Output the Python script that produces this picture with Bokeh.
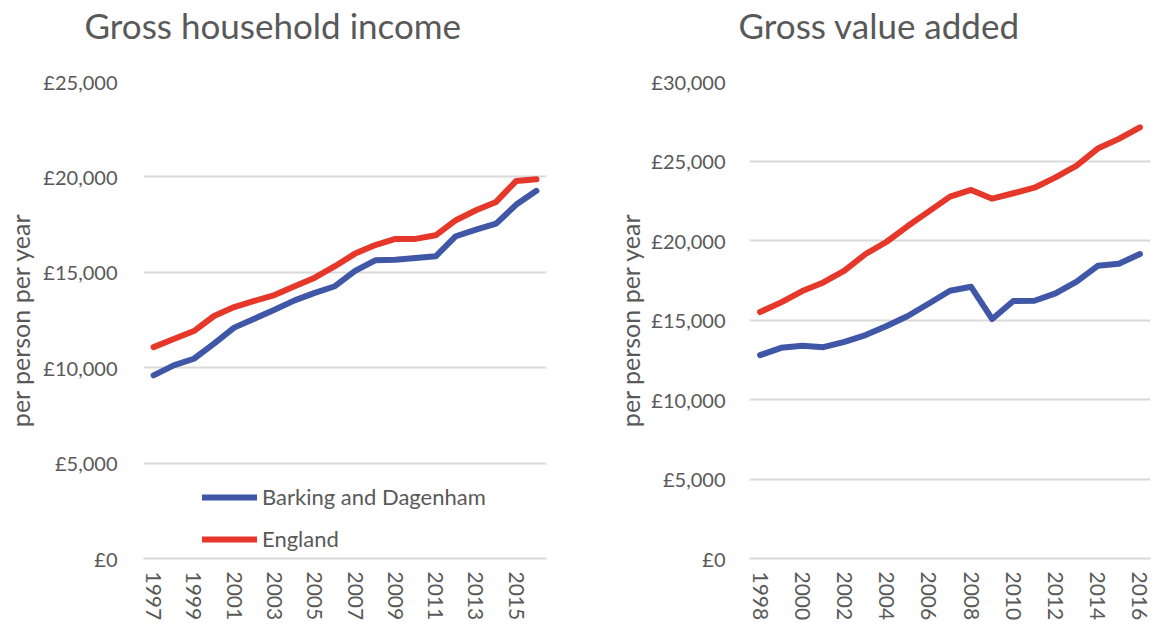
from bokeh.plotting import figure
from bokeh.layouts import row
from bokeh.models import Range1d, FixedTicker, Legend, LegendItem
from bokeh.embed import file_html
from bokeh.resources import INLINE

# ---- data ----
years_income = [1997, 1998, 1999, 2000, 2001, 2002, 2003, 2004, 2005, 2006,
                2007, 2008, 2009, 2010, 2011, 2012, 2013, 2014, 2015, 2016]
income_barking = [9600, 10120, 10470, 11260, 12100, 12570, 13040, 13530, 13920, 14270,
                  15070, 15630, 15660, 15750, 15840, 16890, 17240, 17550, 18550, 19270]
income_england = [11080, 11500, 11920, 12710, 13180, 13500, 13810, 14270, 14720, 15320,
                  15980, 16430, 16750, 16750, 16940, 17730, 18250, 18690, 19790, 19880]

years_gva = [1998, 1999, 2000, 2001, 2002, 2003, 2004, 2005, 2006, 2007,
             2008, 2009, 2010, 2011, 2012, 2013, 2014, 2015, 2016]
gva_barking = [12790, 13250, 13380, 13290, 13630, 14050, 14620, 15250, 16040, 16840,
               17090, 15060, 16190, 16210, 16670, 17410, 18410, 18540, 19150]
gva_england = [15500, 16110, 16820, 17360, 18100, 19150, 19920, 20910, 21830, 22760,
               23180, 22630, 22970, 23320, 23970, 24710, 25780, 26390, 27120]

income_xticks = [1997, 1999, 2001, 2003, 2005, 2007, 2009, 2011, 2013, 2015]
gva_xticks = [1998, 2000, 2002, 2004, 2006, 2008, 2010, 2012, 2014, 2016]
income_yticks = [0, 5000, 10000, 15000, 20000, 25000]
gva_yticks = [0, 5000, 10000, 15000, 20000, 25000, 30000]

series_names = ["Barking and Dagenham", "England"]
title_income = "Gross household income"
title_gva = "Gross value added"
y_label = "per person per year"

# ---- style ----
FONT = "Lato"
TXT = "#595959"
BLUE = "#3F57A6"
RED = "#E6382A"
GRID = "#D9D9D9"


def money(v):
    return "£{:,}".format(v)


def make_fig(title, years, xticks, yticks, ymax, fw, mbl, mbr, title_offset,
             label_standoff, axlabel_standoff):
    p = figure(frame_width=fw, frame_height=477,
               x_range=Range1d(years[0] - 0.5, years[-1] + 0.5),
               y_range=Range1d(0, ymax),
               output_backend="svg", toolbar_location=None,
               min_border_left=mbl, min_border_right=mbr,
               min_border_top=81, min_border_bottom=60,
               title=title + "\n\u00a0")
    p.title.text_font = FONT
    p.title.text_font_size = "35px"
    p.title.text_font_style = "normal"
    p.title.text_color = TXT
    p.title.text_line_height = 0.85
    p.title.align = "left"
    p.title.offset = title_offset
    p.title.standoff = 0
    p.outline_line_color = None
    p.background_fill_color = "white"
    p.border_fill_color = "white"

    p.xaxis.ticker = FixedTicker(ticks=xticks)
    p.xaxis.major_label_orientation = "vertical"
    p.xaxis.major_label_text_font = FONT
    p.xaxis.major_label_text_font_size = "21px"
    p.xaxis.major_label_text_color = TXT
    p.xaxis.major_label_standoff = 13
    p.xaxis.axis_line_color = GRID
    p.xaxis.axis_line_width = 2
    p.xaxis.major_tick_line_color = None
    p.xaxis.minor_tick_line_color = None
    p.xaxis.major_tick_out = 0
    p.xaxis.major_tick_in = 0

    p.yaxis.ticker = FixedTicker(ticks=yticks)
    p.yaxis.major_label_overrides = {v: money(v) for v in yticks}
    p.yaxis.major_label_text_font = FONT
    p.yaxis.major_label_text_font_size = "20px"
    p.yaxis.major_label_text_color = TXT
    p.yaxis.major_label_standoff = label_standoff
    p.yaxis.axis_line_color = None
    p.yaxis.major_tick_line_color = None
    p.yaxis.minor_tick_line_color = None
    p.yaxis.major_tick_out = 0
    p.yaxis.major_tick_in = 0
    p.yaxis.axis_label = y_label
    p.yaxis.axis_label_text_font = FONT
    p.yaxis.axis_label_text_font_size = "25px"
    p.yaxis.axis_label_text_font_style = "normal"
    p.yaxis.axis_label_text_color = TXT
    p.yaxis.axis_label_standoff = axlabel_standoff

    p.xgrid.grid_line_color = None
    p.ygrid.grid_line_color = GRID
    p.ygrid.grid_line_width = 2
    return p


p1 = make_fig(title_income, years_income, income_xticks, income_yticks, 25000,
              403, 143, 20, -59, 26, 5)
r1 = p1.line(years_income, income_barking, line_color=BLUE, line_width=6,
             line_cap="round", line_join="round")
r2 = p1.line(years_income, income_england, line_color=RED, line_width=6,
             line_cap="round", line_join="round")
legend = Legend(items=[LegendItem(label=series_names[0], renderers=[r1]),
                       LegendItem(label=series_names[1], renderers=[r2])],
                location=(59, 6), orientation="vertical",
                glyph_width=55, glyph_height=20, label_height=20,
                label_standoff=5, spacing=15, padding=0, margin=0,
                border_line_color=None, background_fill_alpha=0,
                label_text_font=FONT, label_text_font_size="22px",
                label_text_color=TXT)
p1.add_layout(legend)

p2 = make_fig(title_gva, years_gva, gva_xticks, gva_yticks, 30000,
              401, 183, 6, -11, 24, 3)
p2.line(years_gva, gva_barking, line_color=BLUE, line_width=6,
        line_cap="round", line_join="round")
p2.line(years_gva, gva_england, line_color=RED, line_width=6,
        line_cap="round", line_join="round")

layout = row(p1, p2)
open("out.html", "w").write(file_html(layout, INLINE))
